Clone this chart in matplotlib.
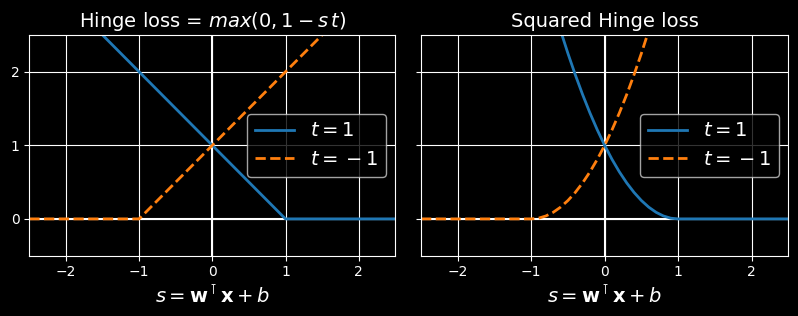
import matplotlib
matplotlib.use("Agg")
import matplotlib.pyplot as plt

plt.style.use("dark_background")

# Hinge loss breakpoints
s_hinge_pos = [-2.5, 1.0, 2.5]
hinge_pos = [3.5, 0.0, 0.0]          # t = 1
s_hinge_neg = [-2.5, -1.0, 2.5]
hinge_neg = [0.0, 0.0, 3.5]          # t = -1

# Squared hinge values
s_sq = [-2.5, -1.0, -0.9, -0.8, -0.7, -0.6, -0.5, -0.4, -0.3, -0.2, -0.1, 0.0,
        0.1, 0.2, 0.3, 0.4, 0.5, 0.6, 0.7, 0.8, 0.9, 1.0, 2.5]
sq_pos = [12.25, 4.0, 3.61, 3.24, 2.89, 2.56, 2.25, 1.96, 1.69, 1.44, 1.21, 1.0,
          0.81, 0.64, 0.49, 0.36, 0.25, 0.16, 0.09, 0.04, 0.01, 0.0, 0.0]
sq_neg = [0.0, 0.0, 0.01, 0.04, 0.09, 0.16, 0.25, 0.36, 0.49, 0.64, 0.81, 1.0,
          1.21, 1.44, 1.69, 1.96, 2.25, 2.56, 2.89, 3.24, 3.61, 4.0, 12.25]

x_ticks = [-2, -1, 0, 1, 2]
y_ticks = [0, 1, 2]
titles = [r"Hinge loss = $max(0, 1 - s\,t)$", "Squared Hinge loss"]
labels = [r"$t=1$", r"$t={}-1$"]
xlabel = r"$s = \mathbf{w}^\intercal \mathbf{x} + b$"

fig = plt.figure(figsize=(7.98, 3.16), dpi=100)
fig.patch.set_facecolor("black")
W, H = 798, 316
ax1 = fig.add_axes([29.3 / W, 1 - 255.7 / H, (395.3 - 29.3) / W, (255.7 - 35) / H])
ax2 = fig.add_axes([421 / W, 1 - 255.7 / H, (788.3 - 421) / W, (255.7 - 35) / H], sharey=ax1)

data = [(s_hinge_pos, hinge_pos, s_hinge_neg, hinge_neg), (s_sq, sq_pos, s_sq, sq_neg)]
for ax, title, (sp, yp, sn, yn) in zip([ax1, ax2], titles, data):
    ax.grid(True, color="white", linewidth=0.8)
    ax.axhline(y=0, color="white", linewidth=1.5)
    ax.axvline(x=0, color="white", linewidth=1.5)
    ax.plot(sp, yp, "-", color="#1f77b4", linewidth=2, label=labels[0])
    ax.plot(sn, yn, "--", color="#ff7f0e", linewidth=2, label=labels[1])
    ax.set_xlim(-2.5, 2.5)
    ax.set_ylim(-0.5, 2.5)
    ax.set_xticks(x_ticks)
    ax.set_yticks(y_ticks)
    ax.set_title(title, fontsize=14)
    ax.set_xlabel(xlabel, fontsize=14)
    ax.legend(loc="center right", fontsize=14)
    ax.set_facecolor("black")

plt.setp(ax2.get_yticklabels(), visible=False)

fig.savefig("out.png", dpi=100, facecolor="black")
